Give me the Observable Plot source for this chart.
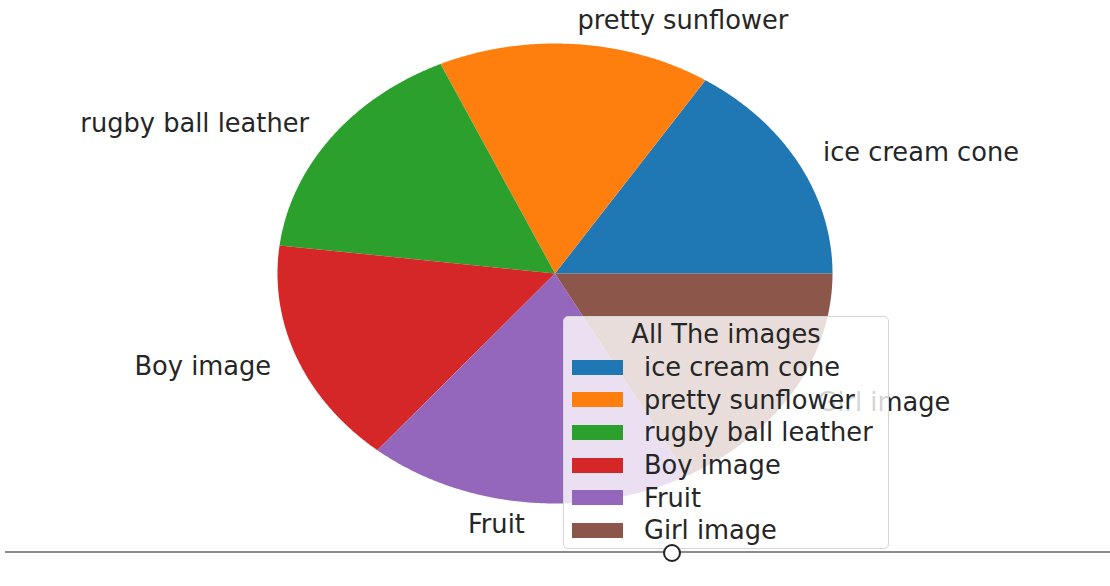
<!DOCTYPE html>
<html>
<head>
<meta charset="utf-8">
<script src="https://cdn.jsdelivr.net/npm/d3@7"></script>
<script src="https://cdn.jsdelivr.net/npm/@observablehq/plot@0.6"></script>
<style>
  html, body { margin: 0; padding: 0; background: #fff; }
  #wrap { position: relative; width: 1110px; height: 586px; overflow: hidden; font-family: "DejaVu Sans", sans-serif; }
  #legend { position: absolute; left: 563px; top: 316px; width: 324px; height: 231px;
    background: rgba(255,255,255,0.8); border: 1px solid #d6d6d6; border-radius: 5px; color: #262626; font-size: 25.7px; }
  #legend .title { height: 34px; line-height: 34px; text-align: center; }
  #legend .row { height: 32.6px; display: flex; align-items: center; }
  #legend .sw { width: 51px; height: 15px; margin-left: 8px; margin-right: 21px; }
  #hline { position: absolute; left: 5px; top: 551px; width: 1105px; height: 2px; background: #8c8c8c; }
  #knob { position: absolute; left: 663px; top: 544px; width: 14px; height: 14px; border: 2px solid #222; border-radius: 50%; background: #fff; }
</style>
</head>
<body>
<div id="wrap"></div>
<script>
const labels = ["ice cream cone", "pretty sunflower", "rugby ball leather", "Boy image", "Fruit", "Girl image"];
const values = [15.9, 15.9, 16.3, 15.9, 19.0, 17.1];
const colors = ["#1f77b4", "#ff7f0e", "#2ca02c", "#d62728", "#9467bd", "#8c564b"];
const legendTitle = "All The images";

const total = d3.sum(values);
let cum = 0;
const slices = [];
const labelPts = [];
labels.forEach((label, i) => {
  const a0 = 2 * Math.PI * cum / total;
  cum += values[i];
  const a1 = 2 * Math.PI * cum / total;
  const pts = [{label, x: 0, y: 0}];
  const n = Math.max(2, Math.ceil((a1 - a0) / (Math.PI / 360)));
  for (let k = 0; k <= n; k++) {
    const t = a0 + (a1 - a0) * k / n;
    pts.push({label, x: Math.cos(t), y: Math.sin(t)});
  }
  slices.push(...pts);
  const m = (a0 + a1) / 2;
  labelPts.push({label, x: 1.1 * Math.cos(m), y: 1.1 * Math.sin(m)});
});

const chart = Plot.plot({
  width: 1110,
  height: 586,
  margin: 0,
  style: {background: "transparent", fontFamily: "DejaVu Sans, sans-serif"},
  x: {domain: [-1, 1], range: [277, 832], axis: null},
  y: {domain: [-1, 1], range: [503, 43], axis: null},
  color: {domain: labels, range: colors},
  marks: [
    Plot.line(slices, {x: "x", y: "y", z: "label", fill: "label", stroke: "none", curve: "linear-closed"}),
    Plot.text(labelPts.filter(d => d.x > 0), {x: "x", y: "y", text: "label", textAnchor: "start", fontSize: 25.7, fill: "#262626"}),
    Plot.text(labelPts.filter(d => d.x <= 0), {x: "x", y: "y", text: "label", textAnchor: "end", fontSize: 25.7, fill: "#262626"})
  ]
});

const wrap = document.getElementById("wrap");
wrap.appendChild(chart);

const legend = document.createElement("div");
legend.id = "legend";
const title = document.createElement("div");
title.className = "title";
title.textContent = legendTitle;
legend.appendChild(title);
labels.forEach((label, i) => {
  const row = document.createElement("div");
  row.className = "row";
  const sw = document.createElement("div");
  sw.className = "sw";
  sw.style.background = colors[i];
  const tx = document.createElement("span");
  tx.textContent = label;
  row.appendChild(sw);
  row.appendChild(tx);
  legend.appendChild(row);
});
wrap.appendChild(legend);

const hline = document.createElement("div");
hline.id = "hline";
wrap.appendChild(hline);
const knob = document.createElement("div");
knob.id = "knob";
wrap.appendChild(knob);
</script>
</body>
</html>
